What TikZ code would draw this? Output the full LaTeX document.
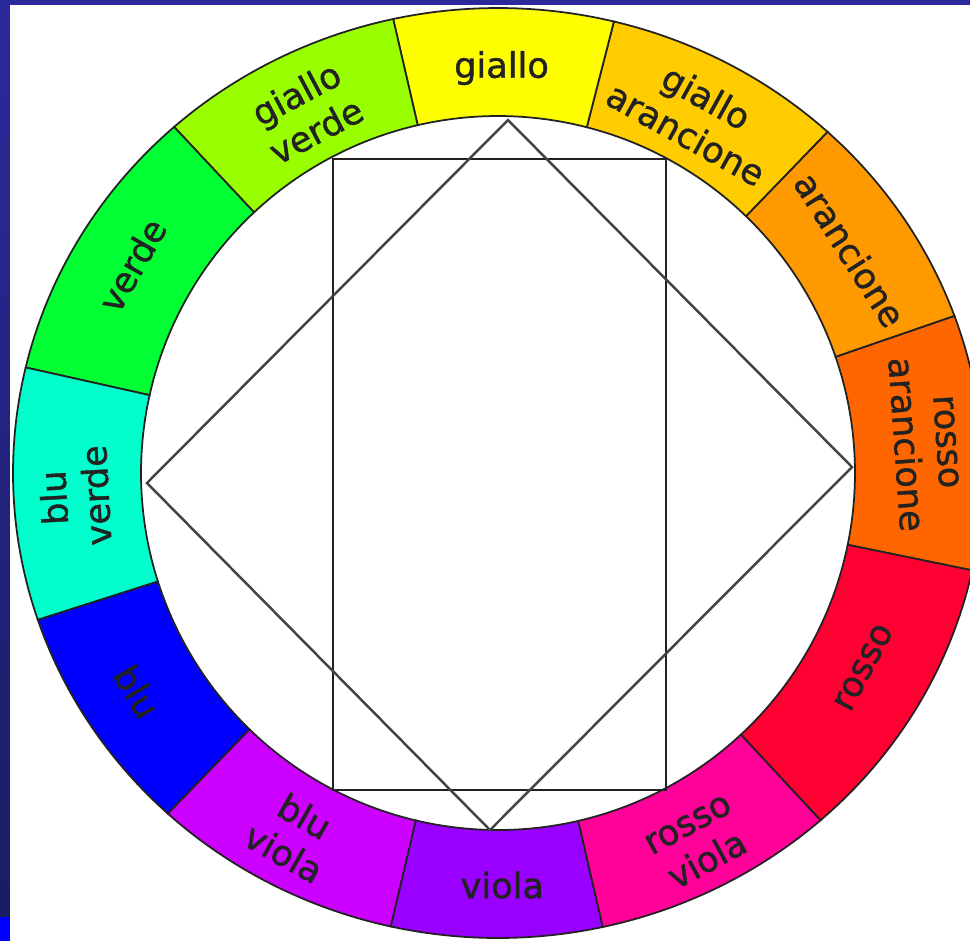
\documentclass[tikz,border=0pt]{standalone}
\usepackage{fontspec}
\setmainfont{DejaVu Sans}
\newfontfamily\lblfont[RawFeature={embolden=1.2}]{DejaVu Sans}
\usepackage{tikz}
\definecolor{Slide}{HTML}{2A2A9C}
\definecolor{SlideDark}{HTML}{1C1C62}
\definecolor{Line}{HTML}{222222}
\definecolor{RossoArancione}{HTML}{FF6600}
\definecolor{Arancione}{HTML}{FF9900}
\definecolor{GialloArancione}{HTML}{FFCC00}
\definecolor{Giallo}{HTML}{FFFF00}
\definecolor{GialloVerde}{HTML}{99FF00}
\definecolor{Verde}{HTML}{00FF33}
\definecolor{BluVerde}{HTML}{00FFCC}
\definecolor{Blu}{HTML}{0000FF}
\definecolor{BluViola}{HTML}{CC00FF}
\definecolor{Viola}{HTML}{9900FF}
\definecolor{RossoViola}{HTML}{FF0099}
\definecolor{Rosso}{HTML}{FF0033}
\tikzset{seg/.style={draw=Line,line width=.5pt},lbl/.style={align=center,inner sep=0pt,font=\lblfont\fontsize{10}{12}\selectfont,text=Line},frame/.style={draw=Line,line width=.7pt}}
\begin{document}
\begin{tikzpicture}[x=.01cm,y=.01cm]
  \useasboundingbox (-498,-468) rectangle (472,473);
  % slide background
  \fill[Slide] (-498,-468) rectangle (472,473);
  \shade[top color=Slide,bottom color=SlideDark] (-498,-444) rectangle (-488,468);
  \fill[Blu] (-498,-468) rectangle (-488,-444);
  \fill[white] (-488,-468) rectangle (472,468);
  % colour ring
  \foreach \n/\aa/\ab/\col/\la/\lr/\rot/\txt in {
      ra/-11.6/19/RossoArancione/4/428/-86/{rosso\\arancione},
      ar/19/46/Arancione/32.4/417/-57.6/{arancione},
      ga/46/75.6/GialloArancione/61/409/-29/{giallo\\arancione},
      gi/75.6/103/Giallo/89.5/405/0/{giallo},
      gv/103/133.1/GialloVerde/118/409/28/{giallo\\verde},
      ve/133.1/167.4/Verde/150.4/421/60.4/{verde},
      bv/167.4/197.7/BluVerde/183.2/424/93.2/{blu\\verde},
      bl/197.7/225.9/Blu/211.2/422/-58.8/{blu},
      bi/225.9/256.7/BluViola/240.6/415/-29.4/{blu\\viola},
      vi/256.7/283/Viola/270.6/412/0/{viola},
      rv/283/312.9/RossoViola/298.4/421/28.4/{rosso\\viola},
      ro/312.9/348.4/Rosso/332/414/62/{rosso}}{
    \pgfmathsetmacro\ta{atan2(485*sin(\aa),465*cos(\aa))}
    \pgfmathsetmacro\ta{\ta+360*round((\aa-\ta)/360)}
    \pgfmathsetmacro\tb{atan2(485*sin(\ab),465*cos(\ab))}
    \pgfmathsetmacro\tb{\tb+360*round((\ab-\tb)/360)}
    \filldraw[seg,fill=\col] (\aa:357) arc[start angle=\aa,end angle=\ab,radius=357]
      -- (\tb:485 and 465) arc[start angle=\tb,end angle=\ta,x radius=485,y radius=465] -- cycle;
    \node[lbl,rotate=\rot] (\n) at (\la:\lr) {\txt};
  }
  % rectangle and square inside the ring
  \coordinate (rsw) at (-165,-317);
  \coordinate (rne) at (168,314);
  \draw[frame] (rsw) rectangle (rne);
  \coordinate (dn) at (10,353);
  \coordinate (de) at (354,6);
  \coordinate (ds) at (-8,-357);
  \coordinate (dw) at (-351,-10);
  \draw[frame,draw=Line!85] (dn) -- (de) -- (ds) -- (dw) -- cycle;
\end{tikzpicture}
\end{document}
